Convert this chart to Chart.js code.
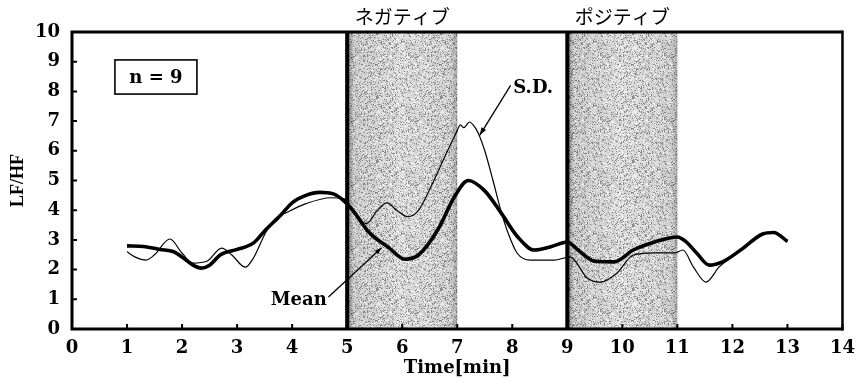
<!DOCTYPE html>
<html>
<head>
<meta charset="utf-8">
<script src="https://cdn.jsdelivr.net/npm/chart.js@4/dist/chart.umd.min.js"></script>
<style>
  html, body { margin: 0; padding: 0; background: #fff; }
  #wrap { width: 864px; height: 392px; }
</style>
</head>
<body>
<div id="wrap"><canvas id="c" width="864" height="392"></canvas></div>
<script>
// LF/HF ratio over time (n = 9): mean curve and S.D. curve
const meanTime = [1.0, 1.3, 1.6, 1.85, 2.0, 2.2, 2.35, 2.5, 2.7, 3.0, 3.3, 3.5, 3.8, 4.0, 4.25, 4.5, 4.75, 4.95,
  5.1, 5.4, 5.75, 6.05, 6.3, 6.65, 6.95, 7.2, 7.5, 7.8, 8.1, 8.4, 8.7, 9.0, 9.2, 9.5, 9.85, 10.2, 10.6, 11.0,
  11.15, 11.35, 11.58, 11.82, 12.15, 12.55, 12.75, 13.0];
const meanValues = [2.8, 2.78, 2.68, 2.6, 2.42, 2.15, 2.05, 2.15, 2.5, 2.68, 2.9, 3.3, 3.85, 4.25, 4.5, 4.6, 4.55, 4.3,
  4.0, 3.25, 2.75, 2.35, 2.5, 3.35, 4.45, 5.0, 4.65, 3.9, 3.1, 2.66, 2.77, 2.93, 2.65, 2.28, 2.26, 2.66, 2.94, 3.1,
  2.95, 2.56, 2.15, 2.26, 2.66, 3.2, 3.25, 2.95];

const sdTime = [1.0, 1.15, 1.35, 1.5, 1.78, 2.0, 2.2, 2.45, 2.72, 2.9, 3.15, 3.3, 3.52, 3.7, 3.9, 4.25, 4.7, 4.95,
  5.1, 5.35, 5.55, 5.72, 5.9, 6.1, 6.3, 6.52, 6.77, 6.98, 7.06, 7.12, 7.22, 7.3, 7.38, 7.5, 7.65, 7.79, 7.91, 8.09,
  8.33, 8.76, 9.05, 9.36, 9.6, 9.9, 10.2, 10.6, 10.95, 11.1, 11.29, 11.52, 11.76, 12.0, 12.15, 12.55, 12.75, 13.0];
const sdValues = [2.6, 2.42, 2.32, 2.5, 3.03, 2.55, 2.22, 2.28, 2.72, 2.5, 2.08, 2.4, 3.25, 3.72, 3.92, 4.22, 4.42, 4.38,
  3.95, 3.55, 4.0, 4.25, 4.0, 3.78, 4.0, 4.78, 5.78, 6.6, 6.87, 6.78, 6.97, 6.85, 6.6, 6.0, 5.0, 4.0, 3.3, 2.55,
  2.32, 2.32, 2.43, 1.72, 1.58, 1.88, 2.49, 2.56, 2.56, 2.66, 2.09, 1.58, 2.09, 2.45, 2.66, 3.2, 3.25, 2.95];

const xTicks = [0, 1, 2, 3, 4, 5, 6, 7, 8, 9, 10, 11, 12, 13, 14];
const yTicks = [0, 1, 2, 3, 4, 5, 6, 7, 8, 9, 10];

// Stimulus periods shown as shaded bands
const bandFrom = [5, 9];
const bandTo = [7, 11];
const bandLabels = ['ネガティブ', 'ポジティブ'];

const serifBold = 'bold 18px "DejaVu Serif", "Liberation Serif", serif';

function pts(xs, ys) { return xs.map((x, i) => ({ x: x, y: ys[i] })); }

// grainy halftone texture for the bands
function makeStipple(ctx) {
  const p = document.createElement('canvas');
  p.width = 64; p.height = 64;
  const g = p.getContext('2d');
  g.fillStyle = '#d4d4d4';
  g.fillRect(0, 0, 64, 64);
  for (let j = 0; j < 64; j++) {
    for (let i = 0; i < 64; i++) {
      const h = ((i * 73856093) ^ (j * 19349663) ^ ((i * j) * 83492791)) >>> 0;
      const r = h % 100;
      if (r < 16) { g.fillStyle = '#8a8a8a'; g.fillRect(i, j, 1, 1); }
      else if (r > 72) { g.fillStyle = '#f4f4f4'; g.fillRect(i, j, 1, 1); }
    }
  }
  return ctx.createPattern(p, 'repeat');
}

const bandsPlugin = {
  id: 'bands',
  beforeDatasetsDraw(chart) {
    const { ctx, chartArea: a, scales: { x } } = chart;
    const pattern = makeStipple(ctx);
    ctx.save();
    bandFrom.forEach((f, i) => {
      const x0 = x.getPixelForValue(f), x1 = x.getPixelForValue(bandTo[i]);
      ctx.fillStyle = pattern;
      ctx.fillRect(x0, a.top, x1 - x0, a.bottom - a.top);
      const gr = ctx.createLinearGradient(x0, 0, x1, 0);
      gr.addColorStop(0, 'rgba(0,0,0,0.45)');
      gr.addColorStop(0.06, 'rgba(0,0,0,0.08)');
      gr.addColorStop(0.5, 'rgba(0,0,0,0.0)');
      gr.addColorStop(0.94, 'rgba(0,0,0,0.05)');
      gr.addColorStop(1, 'rgba(0,0,0,0.25)');
      ctx.fillStyle = gr;
      ctx.fillRect(x0, a.top, x1 - x0, a.bottom - a.top);
      // solid left edge of each period
      ctx.fillStyle = '#000';
      ctx.fillRect(x0 - 2, a.top, 4, a.bottom - a.top);
      // band caption above the frame
      ctx.fillStyle = '#000';
      ctx.font = '19px "Noto Sans CJK JP", sans-serif';
      ctx.textAlign = 'center';
      ctx.textBaseline = 'middle';
      ctx.fillText(bandLabels[i], (x0 + x1) / 2, 17);
    });
    ctx.restore();
  }
};

function arrow(ctx, x0, y0, x1, y1, head) {
  ctx.beginPath();
  ctx.moveTo(x0, y0);
  ctx.lineTo(x1, y1);
  ctx.stroke();
  const ang = Math.atan2(y1 - y0, x1 - x0);
  ctx.beginPath();
  ctx.moveTo(x1, y1);
  ctx.lineTo(x1 - head * Math.cos(ang - 0.35), y1 - head * Math.sin(ang - 0.35));
  ctx.lineTo(x1 - head * Math.cos(ang + 0.35), y1 - head * Math.sin(ang + 0.35));
  ctx.closePath();
  ctx.fill();
}

const framePlugin = {
  id: 'frame',
  afterDatasetsDraw(chart) {
    const { ctx, chartArea: a, scales: { x, y } } = chart;
    ctx.save();
    ctx.strokeStyle = '#000';
    ctx.fillStyle = '#000';
    // plot frame
    ctx.lineWidth = 3;
    ctx.beginPath();
    ctx.moveTo(a.left, a.top); ctx.lineTo(a.right, a.top);
    ctx.moveTo(a.left, a.top - 1.5); ctx.lineTo(a.left, a.bottom + 1.5);
    ctx.moveTo(a.left - 1.5, a.bottom); ctx.lineTo(a.right + 1, a.bottom);
    ctx.stroke();
    ctx.lineWidth = 2.5;
    ctx.beginPath();
    ctx.moveTo(a.right, a.top - 1.5); ctx.lineTo(a.right, a.bottom + 1.5);
    ctx.stroke();
    // inward tick marks
    ctx.lineWidth = 2;
    ctx.beginPath();
    xTicks.forEach(v => {
      const px = x.getPixelForValue(v);
      ctx.moveTo(px, a.bottom); ctx.lineTo(px, a.bottom - 5);
    });
    yTicks.forEach(v => {
      const py = y.getPixelForValue(v);
      ctx.moveTo(a.left, py); ctx.lineTo(a.left + 5, py);
    });
    ctx.stroke();

    // sample size box
    ctx.font = serifBold;
    ctx.textAlign = 'center';
    ctx.textBaseline = 'middle';
    const bx0 = x.getPixelForValue(0.78), bx1 = x.getPixelForValue(2.27);
    const by0 = y.getPixelForValue(9.06), by1 = y.getPixelForValue(7.91);
    ctx.fillStyle = '#fff';
    ctx.fillRect(bx0, by0, bx1 - bx0, by1 - by0);
    ctx.lineWidth = 1.6;
    ctx.strokeRect(bx0, by0, bx1 - bx0, by1 - by0);
    ctx.fillStyle = '#000';
    ctx.fillText('n = 9', (bx0 + bx1) / 2, (by0 + by1) / 2 + 1);

    // curve labels with pointers
    ctx.fillText('S.D.', x.getPixelForValue(8.38), y.getPixelForValue(8.1));
    ctx.fillText('Mean', x.getPixelForValue(4.12), y.getPixelForValue(0.98));
    ctx.lineWidth = 1.3;
    arrow(ctx, x.getPixelForValue(7.97), y.getPixelForValue(8.2),
      x.getPixelForValue(7.41), y.getPixelForValue(6.53), 8);
    arrow(ctx, x.getPixelForValue(4.66), y.getPixelForValue(1.08),
      x.getPixelForValue(5.62), y.getPixelForValue(2.73), 7);
    ctx.restore();
  }
};

new Chart(document.getElementById('c'), {
  type: 'line',
  data: {
    datasets: [
      {
        label: 'S.D.',
        data: pts(sdTime, sdValues),
        borderColor: '#000',
        borderWidth: 1.2,
        pointRadius: 0,
        cubicInterpolationMode: 'monotone',
        fill: false
      },
      {
        label: 'Mean',
        data: pts(meanTime, meanValues),
        borderColor: '#000',
        borderWidth: 3.6,
        pointRadius: 0,
        cubicInterpolationMode: 'monotone',
        fill: false
      }
    ]
  },
  options: {
    responsive: false,
    animation: false,
    events: [],
    layout: { padding: { top: 32, right: 17, left: 0, bottom: 0 } },
    plugins: { legend: { display: false }, tooltip: { enabled: false } },
    scales: {
      x: {
        type: 'linear',
        min: 0, max: 14,
        afterBuildTicks: s => { s.ticks = xTicks.map(v => ({ value: v })); },
        afterFit: s => { s.height = 63; },
        grid: { display: false, drawTicks: false },
        border: { display: false },
        ticks: { color: '#000', padding: 9, maxRotation: 0, font: { family: '"DejaVu Serif", serif', weight: 'bold', size: 18 } },
        title: { display: true, text: 'Time[min]', color: '#000', padding: { top: 0, bottom: 13 },
          font: { family: '"DejaVu Serif", serif', weight: 'bold', size: 18 } }
      },
      y: {
        min: 0, max: 10,
        afterBuildTicks: s => { s.ticks = yTicks.map(v => ({ value: v })); },
        afterFit: s => { s.width = 72; },
        grid: { display: false, drawTicks: false },
        border: { display: false },
        ticks: { color: '#000', padding: 12, font: { family: '"DejaVu Serif", serif', weight: 'bold', size: 18 } },
        title: { display: true, text: 'LF/HF', color: '#000', padding: { top: 8, bottom: 0 },
          font: { family: '"Liberation Serif", serif', weight: 'bold', size: 18 } }
      }
    }
  },
  plugins: [bandsPlugin, framePlugin]
});
</script>
</body>
</html>
